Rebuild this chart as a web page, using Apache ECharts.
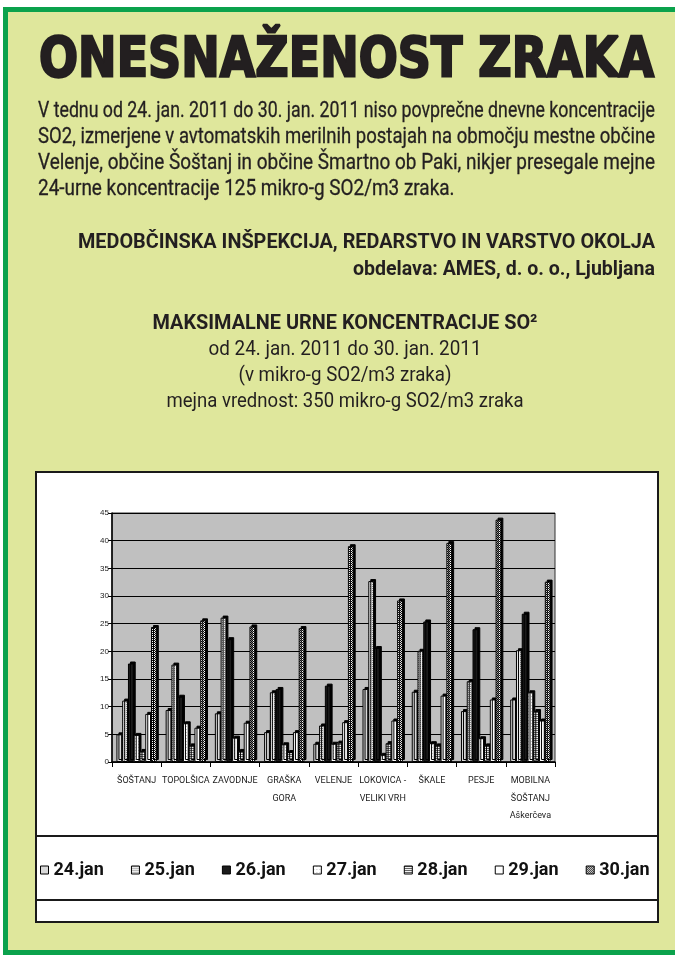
<!DOCTYPE html>
<html><head><meta charset="utf-8">
<script src="https://cdn.jsdelivr.net/npm/echarts@6/dist/echarts.min.js"></script>
<style>html,body{margin:0;padding:0;background:#fff}#c{width:675px;height:958px}</style>
</head><body><div id="c"></div>
<script>
// ---------- data ----------
const categories = ['ŠOŠTANJ','TOPOLŠICA','ZAVODNJE','GRAŠKA\nGORA','VELENJE','LOKOVICA -\nVELIKI VRH','ŠKALE','PESJE','MOBILNA\nŠOŠTANJ\nAškerčeva'];
const seriesNames = ['24.jan','25.jan','26.jan','27.jan','28.jan','29.jan','30.jan'];
const jan24 = [5.0, 9.4, 8.8, 5.4, 3.3, 13.2, 12.7, 9.2, 11.3];
const jan25 = [11.1, 17.6, 26.1, 12.6, 6.6, 32.7, 20.1, 14.6, 20.2];
const jan26 = [17.8, 11.8, 22.2, 13.2, 13.8, 20.6, 25.4, 24.0, 26.8];
const jan27 = [4.9, 7.0, 4.4, 3.2, 3.3, 1.3, 3.4, 4.3, 12.6];
const jan28 = [2.0, 3.0, 2.0, 1.8, 3.5, 3.4, 3.0, 3.0, 9.2];
const jan29 = [8.7, 6.2, 7.1, 5.4, 7.2, 7.5, 12.0, 11.3, 7.5];
const jan30 = [24.4, 25.6, 24.5, 24.2, 39.0, 29.2, 39.6, 43.8, 32.6];
const yTicks = {min: 0, max: 45, step: 5};

const titleText = 'ONESNAŽENOST ZRAKA';
const bodyLines = [
  'V tednu od 24. jan. 2011 do 30. jan. 2011 niso povprečne dnevne koncentracije',
  'SO2, izmerjene v avtomatskih merilnih postajah na območju mestne občine',
  'Velenje, občine Šoštanj in občine Šmartno ob Paki, nikjer presegale mejne',
  '24-urne koncentracije 125 mikro-g SO2/m3 zraka.'
];
const sourceLines = ['MEDOBČINSKA INŠPEKCIJA, REDARSTVO IN VARSTVO OKOLJA', 'obdelava: AMES, d. o. o., Ljubljana'];
const chartTitle = 'MAKSIMALNE URNE KONCENTRACIJE SO²';
const chartSubLines = ['od 24. jan. 2011 do 30. jan. 2011', '(v mikro-g SO2/m3 zraka)', 'mejna vrednost: 350 mikro-g SO2/m3 zraka'];

// ---------- helpers ----------
const mctx = document.createElement('canvas').getContext('2d');
function measure(t, font){ mctx.font = font; return mctx.measureText(t).width; }
function pat(w, h, draw){ const c = document.createElement('canvas'); c.width = w; c.height = h; const g = c.getContext('2d'); draw(g); return {image: c, repeat: 'repeat'}; }
const fills = [
  '#d9d9d9',
  pat(2, 2, g => { g.fillStyle = '#ececec'; g.fillRect(0,0,2,2); g.fillStyle = '#8a8a8a'; g.fillRect(0,0,1,1); }),
  '#1b1b1b',
  pat(3, 3, g => { g.fillStyle = '#ffffff'; g.fillRect(0,0,3,3); g.fillStyle = '#c4c4c4'; g.fillRect(0,0,1,1); }),
  pat(1, 2, g => { g.fillStyle = '#f2f2f2'; g.fillRect(0,0,1,2); g.fillStyle = '#666'; g.fillRect(0,0,1,1); }),
  '#ffffff',
  pat(2, 2, g => { g.fillStyle = '#ffffff'; g.fillRect(0,0,2,2); g.fillStyle = '#111'; g.fillRect(0,0,1,1); g.fillRect(1,1,1,1); })
];
const seriesData = [jan24, jan25, jan26, jan27, jan28, jan29, jan30];

const TXT = '#231f20';
const graphics = [];
// page panel
graphics.push({type:'rect', z:-20, shape:{x:5.5, y:9.5, width:700, height:943}, style:{fill:'#dfe79c', stroke:'#0ba24c', lineWidth:5}});
// chart box
graphics.push({type:'rect', z:-10, shape:{x:36, y:472, width:622, height:450}, style:{fill:'#ffffff', stroke:'#1a1a1a', lineWidth:2}});
graphics.push({type:'line', z:-9, shape:{x1:36, y1:836, x2:658, y2:836}, style:{stroke:'#1a1a1a', lineWidth:2}});
graphics.push({type:'line', z:-9, shape:{x1:36, y1:900, x2:658, y2:900}, style:{stroke:'#1a1a1a', lineWidth:2}});

function addText(text, x, y, font, align, sx, sy, strokeW){
  const st = {text:text, font:font, fill:TXT, align:align, verticalAlign:'middle'};
  if (strokeW) { st.stroke = TXT; st.lineWidth = strokeW; }
  graphics.push({type:'text', x:x, y:y, scaleX:sx, scaleY:sy||1, originX:0, originY:0, z:5, style:st});
}
// title
const tFont = 'bold 50px "DejaVu Sans"';
addText(titleText, 39, 62, tFont, 'left', 615 / measure(titleText, tFont), 1.1, 2.2);
// body (justified lines fitted to width)
const bFont = '22.5px Roboto';
let lastScale = 0.76;
bodyLines.forEach((l, i) => {
  let s = lastScale;
  if (i < 3) { s = 617 / measure(l, bFont); lastScale = s; }
  addText(l, 38, 111 + i * 26.2, bFont, 'left', s, 1, 0.3);
});
// source
const sFont = 'bold 20.5px Roboto';
addText(sourceLines[0], 655, 243, sFont, 'right', 577 / measure(sourceLines[0], sFont));
addText(sourceLines[1], 655, 270, sFont, 'right', 302 / measure(sourceLines[1], sFont));
// chart title block
addText(chartTitle, 345, 324, sFont, 'center', 385 / measure(chartTitle, sFont));
const cFont = '21px Roboto';
const cw = [273, 213, 357];
chartSubLines.forEach((l, i) => addText(l, 345, 350 + i * 26, cFont, 'center', cw[i] / measure(l, cFont)));

// legend gap
const lFont = 'bold 18px Roboto';
let lw = 0; seriesNames.forEach(n => lw += 8 + 5 + measure(n, lFont));
const lGap = (606 - lw) / 6;

const chart = echarts.init(document.getElementById('c'), null, {renderer:'canvas'});
chart.setOption({
  animation: false,
  backgroundColor: 'transparent',
  graphic: graphics,
  grid: {left:112, right:120, top:513, bottom:196, show:true, backgroundColor:'#c0c0c0', borderColor:'#333', borderWidth:1},
  legend: {
    data: seriesNames, left: 40, top: 861, padding: 0, itemWidth: 8, itemHeight: 8, itemGap: lGap, icon: 'rect',
    itemStyle: {borderColor:'#000', borderWidth:1, shadowColor:'rgba(0,0,0,0)', shadowOffsetX:0, shadowOffsetY:0},
    textStyle: {fontFamily:'Roboto', fontWeight:'bold', fontSize:18, color:'#111'},
    selectedMode: false
  },
  xAxis: {
    type:'category', data: categories,
    axisLine:{lineStyle:{color:'#000', width:1.5}},
    axisTick:{show:true, length:5, lineStyle:{color:'#000'}},
    axisLabel:{interval:0, fontFamily:'Roboto', fontSize:9, color:'#222', lineHeight:17.5, margin:10}
  },
  yAxis: {
    type:'value', min:yTicks.min, max:yTicks.max, interval:yTicks.step,
    axisLine:{show:true, lineStyle:{color:'#000', width:1.5}},
    axisTick:{show:true, length:4, lineStyle:{color:'#000'}},
    axisLabel:{fontFamily:'Liberation Sans', fontSize:8, color:'#222', margin:3},
    splitLine:{show:true, lineStyle:{color:'#000', width:1}}
  },
  series: seriesNames.map((n, i) => ({
    name:n, type:'bar', data:seriesData[i], barGap:'0%', barCategoryGap:'18%',
    itemStyle:{color:fills[i], borderColor:'#000', borderWidth:1, shadowColor:'#000', shadowOffsetX:2, shadowOffsetY:-2, shadowBlur:0},
    emphasis:{disabled:true}, silent:true
  }))
});
</script></body></html>
